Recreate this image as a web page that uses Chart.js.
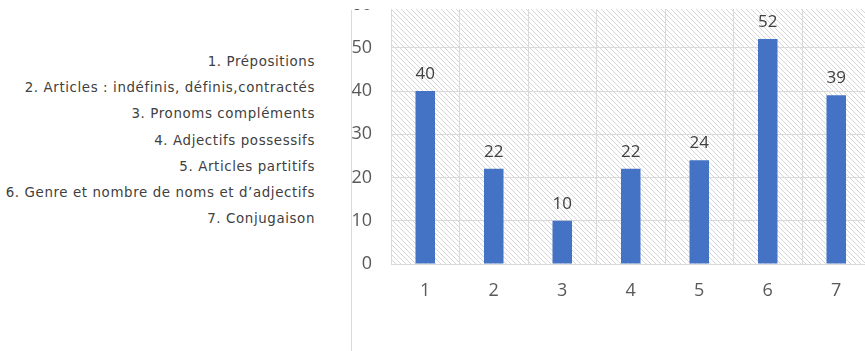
<!DOCTYPE html>
<html>
<head>
<meta charset="utf-8">
<script src="https://cdn.jsdelivr.net/npm/chart.js@4/dist/chart.umd.min.js"></script>
<style>
  html, body { margin: 0; padding: 0; background: #fff; }
  body { width: 865px; height: 351px; overflow: hidden; position: relative; }
  #topics {
    position: absolute; right: 550px; top: 49px; margin: 0; padding: 0;
    list-style: none; text-align: right; color: #404040;
    font-family: 'DejaVu Sans', sans-serif; font-size: 13.4px; line-height: 26.2px;
    letter-spacing: 0.6px; white-space: nowrap;
  }
  #divider { position: absolute; left: 351px; top: 10px; width: 1px; height: 341px; background: #d9d9d9; }
  #wrap { position: absolute; left: 352px; top: 0; width: 530px; height: 351px; }
  #cover { position: absolute; left: 0; top: 0; width: 865px; height: 9px; background: #fff; }
</style>
</head>
<body>
<ul id="topics"></ul>
<div id="divider"></div>
<div id="wrap"><canvas id="chart" width="530" height="351"></canvas></div>
<div id="cover"></div>
<script>
const topics = [
  '1. Prépositions',
  '2. Articles : indéfinis, définis,contractés',
  '3. Pronoms compléments',
  '4. Adjectifs possessifs',
  '5. Articles partitifs',
  '6. Genre et nombre de noms et d\u2019adjectifs',
  '7. Conjugaison',
];
const categories = ['1', '2', '3', '4', '5', '6', '7'];
const counts = [40, 22, 10, 22, 24, 52, 39];
const yTicks = [0, 10, 20, 30, 40, 50, 60];

const list = document.getElementById('topics');
topics.forEach((t) => {
  const li = document.createElement('li');
  li.textContent = t;
  list.appendChild(li);
});

// hachures en fond de la zone de tracé
const makeHatch = () => {
  const tile = document.createElement('canvas');
  tile.width = 5;
  tile.height = 5;
  const c = tile.getContext('2d');
  c.strokeStyle = '#d6d6d6';
  c.lineWidth = 1;
  c.beginPath();
  c.moveTo(-1, -1); c.lineTo(6, 6);
  c.moveTo(-1, 4); c.lineTo(1, 6);
  c.moveTo(4, -1); c.lineTo(6, 1);
  c.stroke();
  return tile;
};

const hatchBg = {
  id: 'hatchBg',
  beforeDraw(chart) {
    const { ctx, chartArea: { left, top, width, height } } = chart;
    ctx.save();
    ctx.fillStyle = ctx.createPattern(makeHatch(), 'repeat');
    ctx.fillRect(left, top, width, height);
    ctx.restore();
  },
};

// valeurs au-dessus des barres
const barValues = {
  id: 'barValues',
  afterDatasetsDraw(chart) {
    const { ctx } = chart;
    const meta = chart.getDatasetMeta(0);
    ctx.save();
    ctx.font = "17px 'Open Sans', sans-serif";
    ctx.fillStyle = '#404040';
    ctx.textAlign = 'center';
    ctx.textBaseline = 'alphabetic';
    meta.data.forEach((bar, i) => {
      ctx.fillText(String(chart.data.datasets[0].data[i]), bar.x, bar.y - 12);
    });
    ctx.restore();
  },
};

const noPad = (scale) => {
  scale.paddingTop = 0;
  scale.paddingBottom = 0;
  scale.paddingLeft = 0;
  scale.paddingRight = 0;
};

new Chart(document.getElementById('chart'), {
  type: 'bar',
  data: {
    labels: categories,
    datasets: [{
      data: counts,
      backgroundColor: '#4472c4',
      barPercentage: 0.57,
      categoryPercentage: 0.5,
    }],
  },
  options: {
    responsive: false,
    animation: false,
    devicePixelRatio: 1,
    layout: { padding: { top: 4.5, right: 11.5, left: 0, bottom: 0 } },
    plugins: { legend: { display: false }, tooltip: { enabled: false } },
    scales: {
      x: {
        grid: { color: '#d9d9d9', lineWidth: 1, drawTicks: false, offset: true },
        border: { display: false },
        ticks: { color: '#595959', padding: 16, font: { family: "'Open Sans', sans-serif", size: 18 } },
        afterFit(scale) { scale.height = 87; noPad(scale); },
      },
      y: {
        min: 0,
        max: 60,
        afterBuildTicks(scale) { scale.ticks = yTicks.map((v) => ({ value: v })); },
        grid: { color: '#d9d9d9', lineWidth: 1, drawTicks: false },
        border: { display: false },
        ticks: {
          color: '#595959',
          padding: 19,
          font: { family: "'Open Sans', sans-serif", size: 18 },
        },
        afterFit(scale) { scale.width = 39; noPad(scale); },
      },
    },
  },
  plugins: [hatchBg, barValues],
});
</script>
</body>
</html>
